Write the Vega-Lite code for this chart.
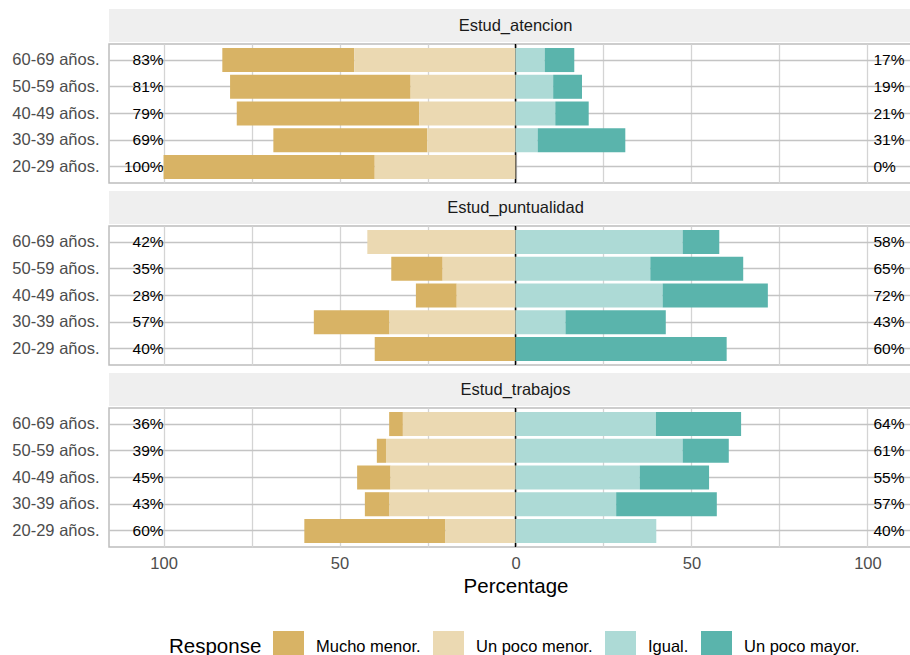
{
  "$schema": "https://vega.github.io/schema/vega-lite/v6.json",
  "padding": {"left": 11, "top": 9, "right": 0, "bottom": 0},
  "config": {
    "font": "Liberation Sans",
    "view": {"stroke": null},
    "concat": {"spacing": 6}
  },
  "datasets": {
    "bars": [
      {"item": "Estud_atencion", "age": "60-69 años.", "response": "Mucho menor.", "pct": -37.5},
      {"item": "Estud_atencion", "age": "60-69 años.", "response": "Un poco menor.", "pct": -45.8},
      {"item": "Estud_atencion", "age": "60-69 años.", "response": "Igual.", "pct": 8.3},
      {"item": "Estud_atencion", "age": "60-69 años.", "response": "Un poco mayor.", "pct": 8.4},
      {"item": "Estud_atencion", "age": "50-59 años.", "response": "Mucho menor.", "pct": -51.3},
      {"item": "Estud_atencion", "age": "50-59 años.", "response": "Un poco menor.", "pct": -29.8},
      {"item": "Estud_atencion", "age": "50-59 años.", "response": "Igual.", "pct": 10.7},
      {"item": "Estud_atencion", "age": "50-59 años.", "response": "Un poco mayor.", "pct": 8.2},
      {"item": "Estud_atencion", "age": "40-49 años.", "response": "Mucho menor.", "pct": -51.8},
      {"item": "Estud_atencion", "age": "40-49 años.", "response": "Un poco menor.", "pct": -27.4},
      {"item": "Estud_atencion", "age": "40-49 años.", "response": "Igual.", "pct": 11.3},
      {"item": "Estud_atencion", "age": "40-49 años.", "response": "Un poco mayor.", "pct": 9.5},
      {"item": "Estud_atencion", "age": "30-39 años.", "response": "Mucho menor.", "pct": -43.7},
      {"item": "Estud_atencion", "age": "30-39 años.", "response": "Un poco menor.", "pct": -25.1},
      {"item": "Estud_atencion", "age": "30-39 años.", "response": "Igual.", "pct": 6.3},
      {"item": "Estud_atencion", "age": "30-39 años.", "response": "Un poco mayor.", "pct": 24.9},
      {"item": "Estud_atencion", "age": "20-29 años.", "response": "Mucho menor.", "pct": -60},
      {"item": "Estud_atencion", "age": "20-29 años.", "response": "Un poco menor.", "pct": -40},
      {"item": "Estud_puntualidad", "age": "60-69 años.", "response": "Un poco menor.", "pct": -42.1},
      {"item": "Estud_puntualidad", "age": "60-69 años.", "response": "Igual.", "pct": 47.5},
      {"item": "Estud_puntualidad", "age": "60-69 años.", "response": "Un poco mayor.", "pct": 10.4},
      {"item": "Estud_puntualidad", "age": "50-59 años.", "response": "Mucho menor.", "pct": -14.6},
      {"item": "Estud_puntualidad", "age": "50-59 años.", "response": "Un poco menor.", "pct": -20.7},
      {"item": "Estud_puntualidad", "age": "50-59 años.", "response": "Igual.", "pct": 38.3},
      {"item": "Estud_puntualidad", "age": "50-59 años.", "response": "Un poco mayor.", "pct": 26.4},
      {"item": "Estud_puntualidad", "age": "40-49 años.", "response": "Mucho menor.", "pct": -11.6},
      {"item": "Estud_puntualidad", "age": "40-49 años.", "response": "Un poco menor.", "pct": -16.7},
      {"item": "Estud_puntualidad", "age": "40-49 años.", "response": "Igual.", "pct": 41.8},
      {"item": "Estud_puntualidad", "age": "40-49 años.", "response": "Un poco mayor.", "pct": 29.9},
      {"item": "Estud_puntualidad", "age": "30-39 años.", "response": "Mucho menor.", "pct": -21.5},
      {"item": "Estud_puntualidad", "age": "30-39 años.", "response": "Un poco menor.", "pct": -35.8},
      {"item": "Estud_puntualidad", "age": "30-39 años.", "response": "Igual.", "pct": 14.2},
      {"item": "Estud_puntualidad", "age": "30-39 años.", "response": "Un poco mayor.", "pct": 28.5},
      {"item": "Estud_puntualidad", "age": "20-29 años.", "response": "Mucho menor.", "pct": -40},
      {"item": "Estud_puntualidad", "age": "20-29 años.", "response": "Un poco mayor.", "pct": 60},
      {"item": "Estud_trabajos", "age": "60-69 años.", "response": "Mucho menor.", "pct": -3.9},
      {"item": "Estud_trabajos", "age": "60-69 años.", "response": "Un poco menor.", "pct": -32.0},
      {"item": "Estud_trabajos", "age": "60-69 años.", "response": "Igual.", "pct": 39.9},
      {"item": "Estud_trabajos", "age": "60-69 años.", "response": "Un poco mayor.", "pct": 24.2},
      {"item": "Estud_trabajos", "age": "50-59 años.", "response": "Mucho menor.", "pct": -2.6},
      {"item": "Estud_trabajos", "age": "50-59 años.", "response": "Un poco menor.", "pct": -36.8},
      {"item": "Estud_trabajos", "age": "50-59 años.", "response": "Igual.", "pct": 47.5},
      {"item": "Estud_trabajos", "age": "50-59 años.", "response": "Un poco mayor.", "pct": 13.1},
      {"item": "Estud_trabajos", "age": "40-49 años.", "response": "Mucho menor.", "pct": -9.5},
      {"item": "Estud_trabajos", "age": "40-49 años.", "response": "Un poco menor.", "pct": -35.5},
      {"item": "Estud_trabajos", "age": "40-49 años.", "response": "Igual.", "pct": 35.3},
      {"item": "Estud_trabajos", "age": "40-49 años.", "response": "Un poco mayor.", "pct": 19.7},
      {"item": "Estud_trabajos", "age": "30-39 años.", "response": "Mucho menor.", "pct": -7.0},
      {"item": "Estud_trabajos", "age": "30-39 años.", "response": "Un poco menor.", "pct": -35.8},
      {"item": "Estud_trabajos", "age": "30-39 años.", "response": "Igual.", "pct": 28.6},
      {"item": "Estud_trabajos", "age": "30-39 años.", "response": "Un poco mayor.", "pct": 28.6},
      {"item": "Estud_trabajos", "age": "20-29 años.", "response": "Mucho menor.", "pct": -40.1},
      {"item": "Estud_trabajos", "age": "20-29 años.", "response": "Un poco menor.", "pct": -19.9},
      {"item": "Estud_trabajos", "age": "20-29 años.", "response": "Igual.", "pct": 40}
    ],
    "labels": [
      {"item": "Estud_atencion", "age": "60-69 años.", "low": "83%", "high": "17%"},
      {"item": "Estud_atencion", "age": "50-59 años.", "low": "81%", "high": "19%"},
      {"item": "Estud_atencion", "age": "40-49 años.", "low": "79%", "high": "21%"},
      {"item": "Estud_atencion", "age": "30-39 años.", "low": "69%", "high": "31%"},
      {"item": "Estud_atencion", "age": "20-29 años.", "low": "100%", "high": "0%"},
      {"item": "Estud_puntualidad", "age": "60-69 años.", "low": "42%", "high": "58%"},
      {"item": "Estud_puntualidad", "age": "50-59 años.", "low": "35%", "high": "65%"},
      {"item": "Estud_puntualidad", "age": "40-49 años.", "low": "28%", "high": "72%"},
      {"item": "Estud_puntualidad", "age": "30-39 años.", "low": "57%", "high": "43%"},
      {"item": "Estud_puntualidad", "age": "20-29 años.", "low": "40%", "high": "60%"},
      {"item": "Estud_trabajos", "age": "60-69 años.", "low": "36%", "high": "64%"},
      {"item": "Estud_trabajos", "age": "50-59 años.", "low": "39%", "high": "61%"},
      {"item": "Estud_trabajos", "age": "40-49 años.", "low": "45%", "high": "55%"},
      {"item": "Estud_trabajos", "age": "30-39 años.", "low": "43%", "high": "57%"},
      {"item": "Estud_trabajos", "age": "20-29 años.", "low": "60%", "high": "40%"}
    ]
  },
  "vconcat": [
    {
      "spacing": 0,
      "vconcat": [
        {
          "width": 813, "height": 33,
          "view": {"fill": "#EFEFEF", "stroke": null},
          "data": {"values": [{"t": "Estud_atencion"}]},
          "mark": {"type": "text", "fontSize": 16.5, "color": "#1A1A1A"},
          "encoding": {"text": {"field": "t"}}
        },
        {
          "width": 813, "height": 139,
          "view": {"stroke": "#BDBDBD", "strokeWidth": 1.5},
          "layer": [
            {
              "data": {"values": [{}]},
              "mark": {"type": "rule", "color": "black", "strokeWidth": 1.5},
              "encoding": {"x": {"datum": 0, "type": "quantitative"}}
            },
            {
              "data": {"name": "bars"},
              "transform": [
                {"filter": "datum.item == 'Estud_atencion'"},
                {"calculate": "indexof(['Un poco menor.','Igual.','Mucho menor.','Un poco mayor.'], datum.response)", "as": "ord"}
              ],
              "mark": {"type": "bar"},
              "encoding": {
                "x": {"field": "pct", "type": "quantitative", "stack": "zero",
                  "scale": {"domain": [-115.5, 115.5], "nice": false, "zero": false},
                  "axis": {"title": null, "values": [-100, -75, -50, -25, 0, 25, 50, 75, 100], "labels": false, "ticks": false, "domain": false, "grid": true, "gridColor": "#D4D4D4", "gridWidth": 1.3}},
                "y": {"field": "age", "type": "nominal",
                  "scale": {"domain": ["60-69 años.", "50-59 años.", "40-49 años.", "30-39 años.", "20-29 años."], "paddingInner": 0.1, "paddingOuter": 0.15},
                  "axis": {"title": null, "labelFontSize": 16.5, "labelColor": "#4D4D4D", "ticks": false, "domain": false, "labelPadding": 10, "grid": true, "gridColor": "#C4C4C4", "gridWidth": 1.6, "bandPosition": 0.5}},
                "color": {"field": "response", "type": "nominal",
                  "scale": {"domain": ["Mucho menor.", "Un poco menor.", "Igual.", "Un poco mayor."], "range": ["#D8B365", "#EBD9B2", "#ADDAD6", "#5AB4AC"]},
                  "legend": {"orient": "none", "legendX": 60, "legendY": 622, "direction": "horizontal", "title": "Response", "titleOrient": "left", "titleFontSize": 20.5, "titleFontWeight": "normal", "titleColor": "black", "titlePadding": 11, "titleAnchor": "middle", "titleBaseline": "middle", "labelFontSize": 16.5, "labelColor": "black", "symbolType": "square", "symbolSize": 961, "symbolStrokeWidth": 0, "symbolOpacity": 1, "labelOffset": 12, "columnPadding": 12, "padding": 0}},
                "order": {"field": "ord", "type": "quantitative"}
              }
            },
            {
              "data": {"name": "labels"},
              "transform": [{"filter": "datum.item == 'Estud_atencion'"}],
              "mark": {"type": "text", "align": "right", "fontSize": 15.5, "color": "black"},
              "encoding": {"x": {"datum": -100, "type": "quantitative"}, "y": {"field": "age", "type": "nominal"}, "text": {"field": "low"}}
            },
            {
              "data": {"name": "labels"},
              "transform": [{"filter": "datum.item == 'Estud_atencion'"}],
              "mark": {"type": "text", "align": "left", "dx": 6, "fontSize": 15.5, "color": "black"},
              "encoding": {"x": {"datum": 100, "type": "quantitative"}, "y": {"field": "age", "type": "nominal"}, "text": {"field": "high"}}
            }
          ]
        }
      ]
    },
    {
      "spacing": 0,
      "vconcat": [
        {
          "width": 813, "height": 33,
          "view": {"fill": "#EFEFEF", "stroke": null},
          "data": {"values": [{"t": "Estud_puntualidad"}]},
          "mark": {"type": "text", "fontSize": 16.5, "color": "#1A1A1A"},
          "encoding": {"text": {"field": "t"}}
        },
        {
          "width": 813, "height": 139,
          "view": {"stroke": "#BDBDBD", "strokeWidth": 1.5},
          "layer": [
            {
              "data": {"values": [{}]},
              "mark": {"type": "rule", "color": "black", "strokeWidth": 1.5},
              "encoding": {"x": {"datum": 0, "type": "quantitative"}}
            },
            {
              "data": {"name": "bars"},
              "transform": [
                {"filter": "datum.item == 'Estud_puntualidad'"},
                {"calculate": "indexof(['Un poco menor.','Igual.','Mucho menor.','Un poco mayor.'], datum.response)", "as": "ord"}
              ],
              "mark": {"type": "bar"},
              "encoding": {
                "x": {"field": "pct", "type": "quantitative", "stack": "zero",
                  "scale": {"domain": [-115.5, 115.5], "nice": false, "zero": false},
                  "axis": {"title": null, "values": [-100, -75, -50, -25, 0, 25, 50, 75, 100], "labels": false, "ticks": false, "domain": false, "grid": true, "gridColor": "#D4D4D4", "gridWidth": 1.3}},
                "y": {"field": "age", "type": "nominal",
                  "scale": {"domain": ["60-69 años.", "50-59 años.", "40-49 años.", "30-39 años.", "20-29 años."], "paddingInner": 0.1, "paddingOuter": 0.15},
                  "axis": {"title": null, "labelFontSize": 16.5, "labelColor": "#4D4D4D", "ticks": false, "domain": false, "labelPadding": 10, "grid": true, "gridColor": "#C4C4C4", "gridWidth": 1.6, "bandPosition": 0.5}},
                "color": {"field": "response", "type": "nominal",
                  "scale": {"domain": ["Mucho menor.", "Un poco menor.", "Igual.", "Un poco mayor."], "range": ["#D8B365", "#EBD9B2", "#ADDAD6", "#5AB4AC"]},
                  "legend": {"orient": "none", "legendX": 60, "legendY": 622, "direction": "horizontal", "title": "Response", "titleOrient": "left", "titleFontSize": 20.5, "titleFontWeight": "normal", "titleColor": "black", "titlePadding": 11, "titleAnchor": "middle", "titleBaseline": "middle", "labelFontSize": 16.5, "labelColor": "black", "symbolType": "square", "symbolSize": 961, "symbolStrokeWidth": 0, "symbolOpacity": 1, "labelOffset": 12, "columnPadding": 12, "padding": 0}},
                "order": {"field": "ord", "type": "quantitative"}
              }
            },
            {
              "data": {"name": "labels"},
              "transform": [{"filter": "datum.item == 'Estud_puntualidad'"}],
              "mark": {"type": "text", "align": "right", "fontSize": 15.5, "color": "black"},
              "encoding": {"x": {"datum": -100, "type": "quantitative"}, "y": {"field": "age", "type": "nominal"}, "text": {"field": "low"}}
            },
            {
              "data": {"name": "labels"},
              "transform": [{"filter": "datum.item == 'Estud_puntualidad'"}],
              "mark": {"type": "text", "align": "left", "dx": 6, "fontSize": 15.5, "color": "black"},
              "encoding": {"x": {"datum": 100, "type": "quantitative"}, "y": {"field": "age", "type": "nominal"}, "text": {"field": "high"}}
            }
          ]
        }
      ]
    },
    {
      "spacing": 0,
      "vconcat": [
        {
          "width": 813, "height": 33,
          "view": {"fill": "#EFEFEF", "stroke": null},
          "data": {"values": [{"t": "Estud_trabajos"}]},
          "mark": {"type": "text", "fontSize": 16.5, "color": "#1A1A1A"},
          "encoding": {"text": {"field": "t"}}
        },
        {
          "width": 813, "height": 139,
          "view": {"stroke": "#BDBDBD", "strokeWidth": 1.5},
          "layer": [
            {
              "data": {"values": [{}]},
              "mark": {"type": "rule", "color": "black", "strokeWidth": 1.5},
              "encoding": {"x": {"datum": 0, "type": "quantitative"}}
            },
            {
              "data": {"name": "bars"},
              "transform": [
                {"filter": "datum.item == 'Estud_trabajos'"},
                {"calculate": "indexof(['Un poco menor.','Igual.','Mucho menor.','Un poco mayor.'], datum.response)", "as": "ord"}
              ],
              "mark": {"type": "bar"},
              "encoding": {
                "x": {"field": "pct", "type": "quantitative", "stack": "zero",
                  "scale": {"domain": [-115.5, 115.5], "nice": false, "zero": false},
                  "axis": {"title": "Percentage", "titleFontSize": 20.5, "titleFontWeight": "normal", "titleColor": "black", "titlePadding": 5, "values": [-100, -75, -50, -25, 0, 25, 50, 75, 100], "labelExpr": "abs(datum.value) % 50 == 0 ? format(abs(datum.value), 'd') : ''", "labelFontSize": 16.5, "labelColor": "#4D4D4D", "labelPadding": 8, "ticks": false, "domain": false, "grid": true, "gridColor": "#D4D4D4", "gridWidth": 1.3}},
                "y": {"field": "age", "type": "nominal",
                  "scale": {"domain": ["60-69 años.", "50-59 años.", "40-49 años.", "30-39 años.", "20-29 años."], "paddingInner": 0.1, "paddingOuter": 0.15},
                  "axis": {"title": null, "labelFontSize": 16.5, "labelColor": "#4D4D4D", "ticks": false, "domain": false, "labelPadding": 10, "grid": true, "gridColor": "#C4C4C4", "gridWidth": 1.6, "bandPosition": 0.5}},
                "color": {"field": "response", "type": "nominal",
                  "scale": {"domain": ["Mucho menor.", "Un poco menor.", "Igual.", "Un poco mayor."], "range": ["#D8B365", "#EBD9B2", "#ADDAD6", "#5AB4AC"]},
                  "legend": {"orient": "none", "legendX": 60, "legendY": 622, "direction": "horizontal", "title": "Response", "titleOrient": "left", "titleFontSize": 20.5, "titleFontWeight": "normal", "titleColor": "black", "titlePadding": 11, "titleAnchor": "middle", "titleBaseline": "middle", "labelFontSize": 16.5, "labelColor": "black", "symbolType": "square", "symbolSize": 961, "symbolStrokeWidth": 0, "symbolOpacity": 1, "labelOffset": 12, "columnPadding": 12, "padding": 0}},
                "order": {"field": "ord", "type": "quantitative"}
              }
            },
            {
              "data": {"name": "labels"},
              "transform": [{"filter": "datum.item == 'Estud_trabajos'"}],
              "mark": {"type": "text", "align": "right", "fontSize": 15.5, "color": "black"},
              "encoding": {"x": {"datum": -100, "type": "quantitative"}, "y": {"field": "age", "type": "nominal"}, "text": {"field": "low"}}
            },
            {
              "data": {"name": "labels"},
              "transform": [{"filter": "datum.item == 'Estud_trabajos'"}],
              "mark": {"type": "text", "align": "left", "dx": 6, "fontSize": 15.5, "color": "black"},
              "encoding": {"x": {"datum": 100, "type": "quantitative"}, "y": {"field": "age", "type": "nominal"}, "text": {"field": "high"}}
            }
          ]
        }
      ]
    }
  ]
}
